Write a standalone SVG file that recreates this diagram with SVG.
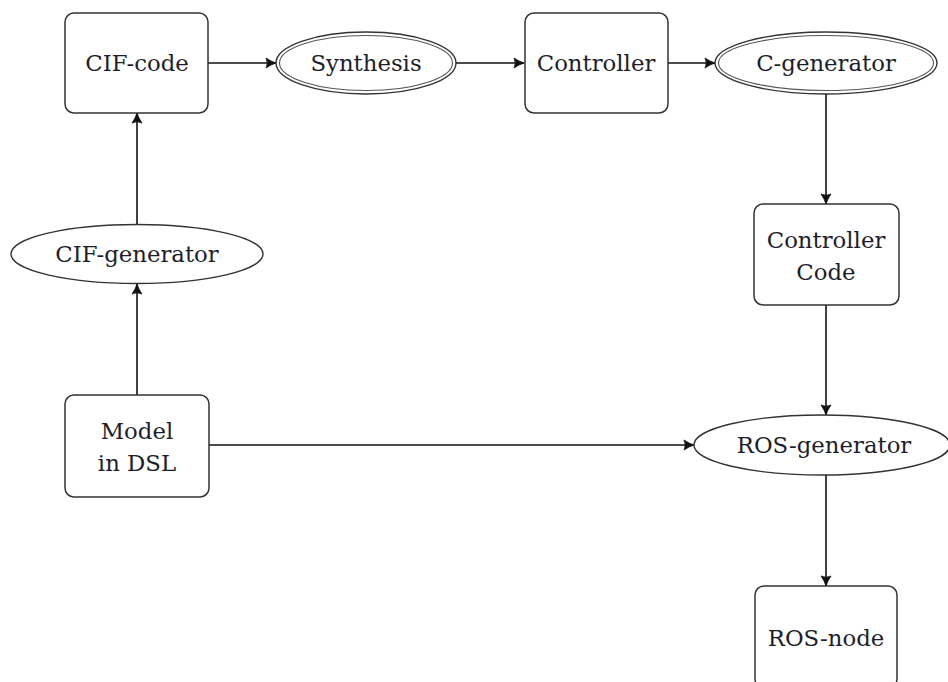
<svg xmlns="http://www.w3.org/2000/svg" width="948" height="682" viewBox="0 0 948 682">
<style>
.box{fill:#fff;stroke:#333;stroke-width:1.5}
.ell{fill:#fff;stroke:#333;stroke-width:1.4}
.dbl{fill:none;stroke:#555;stroke-width:1.1}
.lbl{font-family:"DejaVu Serif","Liberation Serif",serif;font-size:22.8px;fill:#1e1e2a;text-anchor:middle;dominant-baseline:central}
.edge{fill:none;stroke:#111;stroke-width:1.6;marker-end:url(#arr)}
</style>
<defs>
<marker id="arr" markerWidth="14" markerHeight="14" refX="12" refY="7" orient="auto" markerUnits="userSpaceOnUse">
<path d="M2,2 Q7,5.5 12,7 Q7,8.5 2,12 Q4.5,7 2,2 Z" fill="#111" stroke="#111" stroke-width="0.8" stroke-linejoin="round"/>
</marker>
</defs>
<rect width="948" height="682" fill="#fff"/>
<g id="connectors">
<line class="edge" x1="208" y1="63" x2="276" y2="63"/>
<line class="edge" x1="455" y1="63" x2="524" y2="63"/>
<line class="edge" x1="668" y1="63" x2="715" y2="63"/>
<line class="edge" x1="826" y1="94" x2="826" y2="204"/>
<line class="edge" x1="826" y1="305" x2="826" y2="415"/>
<line class="edge" x1="826" y1="475" x2="826" y2="586"/>
<line class="edge" x1="209" y1="445" x2="694" y2="445"/>
<line class="edge" x1="137" y1="395" x2="137" y2="284"/>
<line class="edge" x1="137" y1="225" x2="137" y2="113"/>
</g>
<g id="cif-code">
<rect class="box" x="65" y="13" width="143" height="100" rx="9"/>
<text class="lbl" x="137" y="63">CIF-code</text>
</g>
<g id="synthesis">
<ellipse class="ell" cx="366" cy="63" rx="90" ry="31"/>
<ellipse class="dbl" cx="366" cy="63" rx="86.5" ry="27.5"/>
<text class="lbl" x="366" y="63">Synthesis</text>
</g>
<g id="controller">
<rect class="box" x="525" y="13" width="143" height="100" rx="9"/>
<text class="lbl" x="596" y="63">Controller</text>
</g>
<g id="c-generator">
<ellipse class="ell" cx="826" cy="63" rx="111" ry="31"/>
<ellipse class="dbl" cx="826" cy="63" rx="107.5" ry="27.5"/>
<text class="lbl" x="826" y="63">C-generator</text>
</g>
<g id="controller-code">
<rect class="box" x="754" y="204" width="145" height="101" rx="9"/>
<text class="lbl" x="826" y="240">Controller</text>
<text class="lbl" x="826" y="272">Code</text>
</g>
<g id="cif-generator">
<ellipse class="ell" cx="137" cy="254" rx="126" ry="29.5"/>
<text class="lbl" x="137" y="254">CIF-generator</text>
</g>
<g id="model-dsl">
<rect class="box" x="65" y="395" width="144" height="102" rx="9"/>
<text class="lbl" x="137" y="431">Model</text>
<text class="lbl" x="137" y="463">in DSL</text>
</g>
<g id="ros-generator">
<ellipse class="ell" cx="822" cy="445" rx="128" ry="30"/>
<text class="lbl" x="824" y="445">ROS-generator</text>
</g>
<g id="ros-node">
<rect class="box" x="755" y="586" width="142" height="102" rx="9"/>
<text class="lbl" x="826" y="638">ROS-node</text>
</g>
</svg>
